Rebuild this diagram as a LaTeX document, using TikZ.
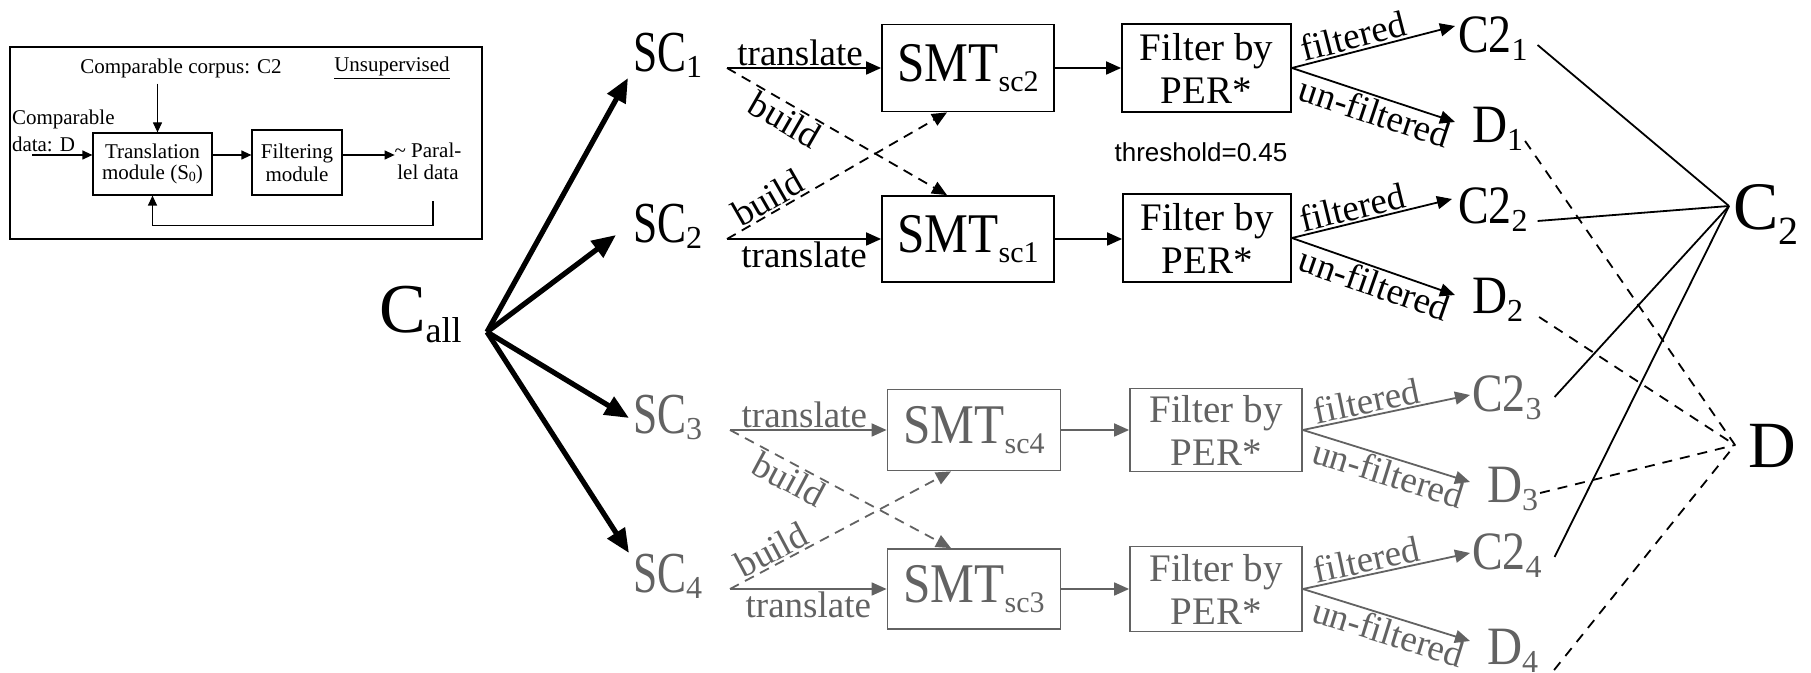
\documentclass[tikz,border=0pt]{standalone}
\usepackage{fontspec}
\usepackage{graphicx}
\setmainfont{Liberation Serif}
\newfontfamily\sansf{Liberation Sans}
\usetikzlibrary{arrows.meta,calc}
\definecolor{gr}{RGB}{98,98,98}
\newcommand{\fs}[1]{\fontsize{#1}{#1}\selectfont}
\newcommand{\dn}[3]{\raisebox{#1}{\fs{#2}#3}}
\newcommand{\hs}[2]{\scalebox{#1}[1]{#2}}
\begin{document}
\begin{tikzpicture}[x=0.5pt,y=-0.5pt,
  lbl/.style={inner sep=0pt, outer sep=0pt},
  ibox/.style={draw, line width=0.6pt, align=center, inner sep=0pt},
  iarr/.style={line width=0.6pt, -{Triangle[length=5pt,width=4.5pt]}},
  thk/.style={line width=2.6pt, -{Triangle[length=12pt,width=10pt]}},
  ar/.style={line width=0.9pt, -{Triangle[length=7.5pt,width=6.5pt]}},
  da/.style={ar, dash pattern=on 5pt off 3.5pt},
  bx/.style={draw, line width=0.9pt, inner sep=0pt, align=center},
  smt/.style={bx, font=\fs{28}},
  flt/.style={bx, font=\fontsize{19.5}{21.5}\selectfont},
  big/.style={lbl, font=\fs{29}},
  rn/.style={lbl, font=\fs{27}},
  sm/.style={font=\fs{18.5}, inner sep=0.8pt},
  cl/.style={line width=0.9pt},
  dl/.style={line width=0.9pt, dash pattern=on 5pt off 4pt},
  grey/.style={gr, draw=gr}
]
\useasboundingbox (0,0) rectangle (1811,673);

% ---------- inset ----------
\draw[line width=0.75pt] (10,47) rectangle (482,239);
\node[lbl, font=\fs{10.5}] (cc) at (181,68) {Comparable corpus: C2};
\node[lbl, font=\fs{10.5}] (uns) at (392,68) {\underline{Unsupervised}};
\node[ibox, minimum width=59.5pt, minimum height=31pt, font=\fontsize{10.5}{10.5}\selectfont] (trans) at (152.5,164) {Translation\\module (S\dn{-1pt}{7}{0})};
\node[ibox, minimum width=45pt, minimum height=32.5pt, font=\fontsize{10.5}{11.5}\selectfont] (filt) at (297,162.5) {Filtering\\module};
\node[lbl, align=left, anchor=west, font=\fontsize{10.5}{13.5}\selectfont] (cd) at (12,131) {Comparable\\data: D};
\node[lbl, align=center, font=\fontsize{10.5}{11}\selectfont] (par) at (428,161) {\textasciitilde\ Paral-\\lel data};
\coordinate (y155) at (0,155);
\path (cd.west |- y155) ++(20,0) coordinate (cdin);
\path (trans.north) ++(5,0) coordinate (tn);
\path (cc.south -| tn) ++(0,6) coordinate (ccd);
\draw[iarr] (cdin) -- (trans.west |- cdin);
\draw[iarr] (ccd) -- (tn);
\draw[iarr] (trans.east |- y155) -- (filt.west |- y155);
\draw[iarr] (filt.east |- y155) -- (par.west |- y155);
\path (par.south) ++(5,22) coordinate (fb0);
\draw[iarr] (fb0) |- ($(trans.south)+(0,30)$) -- (trans.south);

% ---------- main ----------
\node[lbl, anchor=base west, font=\fs{35}] (call) at (379,333) {C\dn{-5pt}{18}{all}};
\coordinate (hub) at (487,332);

\node[big, anchor=base west] (sc1) at (633,72) {\hs{0.75}{SC}\dn{-3pt}{16}{1}};
\node[big, anchor=base west] (sc2) at (633,243) {\hs{0.75}{SC}\dn{-3pt}{16}{2}};
\node[big, anchor=base west, gr] (sc3) at (633,434) {\hs{0.75}{SC}\dn{-3pt}{16}{3}};
\node[big, anchor=base west, gr] (sc4) at (633,593) {\hs{0.75}{SC}\dn{-3pt}{16}{4}};

\draw[thk] (hub) -- ($(sc1.base west)+(-5,6)$);
\draw[thk] (hub) -- ($(sc2.base west)+(-17,-8)$);
\draw[thk] (hub) -- ($(sc3.base west)+(-4,-16)$);
\draw[thk] (hub) -- ($(sc4.base west)+(-4,-40)$);

\path (sc1.base west) ++(94,-4) coordinate (o1);
\path (sc2.base west) ++(94,-4) coordinate (o2);
\path (sc3.base west) ++(97,-4) coordinate (o3);
\path (sc4.base west) ++(97,-4) coordinate (o4);

\node[smt, minimum width=86pt, minimum height=43.5pt] (m2) at (968,68) {\hs{0.88}{SMT}\dn{-5pt}{15}{sc2}};
\node[smt, minimum width=86pt, minimum height=43pt] (m1) at (968,239) {\hs{0.88}{SMT}\dn{-5pt}{15}{sc1}};
\node[smt, grey, minimum width=86.5pt, minimum height=40.5pt] (m4) at (974,430) {\hs{0.88}{SMT}\dn{-5pt}{15}{sc4}};
\node[smt, grey, minimum width=86.5pt, minimum height=40pt] (m3) at (974,589) {\hs{0.88}{SMT}\dn{-5pt}{15}{sc3}};

\node[flt, minimum width=84.5pt, minimum height=44pt] (f1) at (1206.5,68) {Filter by\\PER*};
\node[flt, minimum width=84pt, minimum height=44pt] (f2) at (1207,238) {Filter by\\PER*};
\node[flt, grey, minimum width=86pt, minimum height=41.5pt] (f3) at (1216,430) {Filter by\\PER*};
\node[flt, grey, minimum width=86pt, minimum height=42.5pt] (f4) at (1216,589) {Filter by\\PER*};

\node[lbl, font=\sansf\fs{13}] (thr) at (1201,152) {threshold=0.45};

% translate / build
\draw[ar] (o1) -- node[sm, above, xshift=-2pt] {translate} (m2.west |- o1);
\draw[ar] (o2) -- node[sm, below] {translate} (m1.west |- o2);
\draw[da] (o1) -- node[sm, sloped, below, pos=0.3] {build} ($(m1.north)+(-21,0)$);
\draw[da] (o2) -- node[sm, sloped, above, pos=0.22] {build} ($(m2.south)+(-21,0)$);

\begin{scope}[gr]
\draw[ar, draw=gr] (o3) -- node[sm, above, xshift=-2pt] {translate} (m4.west |- o3);
\draw[ar, draw=gr] (o4) -- node[sm, below] {translate} (m3.west |- o4);
\draw[da, draw=gr] (o3) -- node[sm, sloped, below, pos=0.3] {build} ($(m3.north)+(-23,0)$);
\draw[da, draw=gr] (o4) -- node[sm, sloped, above, pos=0.22] {build} ($(m4.south)+(-23,0)$);
\end{scope}

\draw[ar] (m2) -- (f1);
\draw[ar] (m1.east) -- (f2.west |- m1.east);
\draw[ar, draw=gr] (m4) -- (f3);
\draw[ar, draw=gr] (m3) -- (f4);

% right nodes
\node[rn, anchor=base west] (c21) at (1458,53) {\hs{0.85}{C2}\dn{-4pt}{16}{1}};
\node[rn, anchor=base west] (d1) at (1472,143) {\hs{0.9}{D}\dn{-4pt}{16}{1}};
\node[rn, anchor=base west] (c22) at (1458,224) {\hs{0.85}{C2}\dn{-4pt}{16}{2}};
\node[rn, anchor=base west] (d2) at (1472,314) {\hs{0.9}{D}\dn{-4pt}{16}{2}};
\node[rn, anchor=base west, gr] (c23) at (1472,412) {\hs{0.85}{C2}\dn{-4pt}{16}{3}};
\node[rn, anchor=base west, gr] (d3) at (1487,503) {\hs{0.9}{D}\dn{-4pt}{16}{3}};
\node[rn, anchor=base west, gr] (c24) at (1472,570) {\hs{0.85}{C2}\dn{-4pt}{16}{4}};
\node[rn, anchor=base west, gr] (d4) at (1487,664) {\hs{0.9}{D}\dn{-4pt}{16}{4}};

\draw[ar] (f1.east) -- node[sm, sloped, above, pos=0.4] {filtered} ($(c21.base west)+(-3,-27)$);
\draw[ar] (f1.east) -- node[sm, sloped, below, pos=0.54] {un-filtered} ($(d1.base west)+(-17,-21)$);
\draw[ar] (f2.east) -- node[sm, sloped, above, pos=0.4] {filtered} ($(c22.base west)+(-6,-25)$);
\draw[ar] (f2.east) -- node[sm, sloped, below, pos=0.54] {un-filtered} ($(d2.base west)+(-17,-19)$);
\begin{scope}[gr]
\draw[ar, draw=gr] (f3.east) -- node[sm, sloped, above, pos=0.4] {filtered} ($(c23.base west)+(-2,-17)$);
\draw[ar, draw=gr] (f3.east) -- node[sm, sloped, below, pos=0.54] {un-filtered} ($(d3.base west)+(-17,-21)$);
\draw[ar, draw=gr] (f4.east) -- node[sm, sloped, above, pos=0.4] {filtered} ($(c24.base west)+(-2,-17)$);
\draw[ar, draw=gr] (f4.east) -- node[sm, sloped, below, pos=0.54] {un-filtered} ($(d4.base west)+(-17,-23)$);
\end{scope}

\node[lbl, anchor=base west, font=\fs{34}] (C2) at (1733,230) {C\dn{-7.5pt}{20}{2}};
\node[lbl, anchor=base west, font=\fs{33}] (D) at (1748,468) {D};
\path (C2.base west) ++(-4,-24) coordinate (c2in);
\path (D.base west) ++(-13,-23) coordinate (din);

\draw[cl] ($(c21.base east)+(10,-8)$) -- (c2in);
\draw[cl] ($(c22.base east)+(10,-3)$) -- (c2in);
\draw[cl] ($(c23.base east)+(13,-15)$) -- (c2in);
\draw[cl] ($(c24.base east)+(13,-13)$) -- (c2in);
\draw[dl] ($(d1.base east)+(2,-2)$) -- (din);
\draw[dl] ($(d2.base east)+(16,3)$) -- (din);
\draw[dl] ($(d3.base east)+(2,-10)$) -- (din);
\draw[dl] ($(d4.base east)+(16,6)$) -- (din);
\end{tikzpicture}
\end{document}
